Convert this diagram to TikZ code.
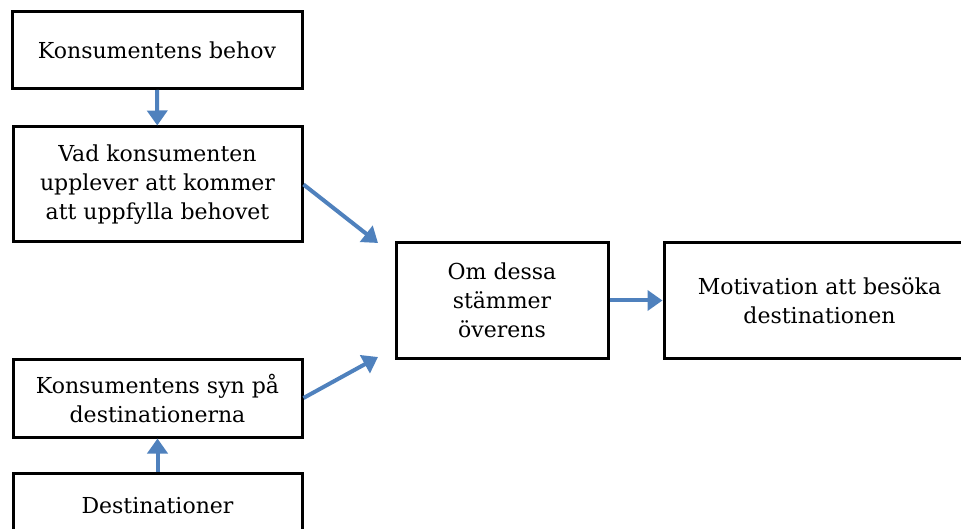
\documentclass[tikz,border=0pt]{standalone}
\usepackage{fontspec}
\setmainfont{DejaVu Serif}
\usetikzlibrary{arrows.meta, positioning}
\definecolor{pilblue}{HTML}{4F81BD}
\begin{document}
\begin{tikzpicture}[x = 1pt, y = 1pt, % one unit per pixel
                > = {Triangle[width = 20pt, length = 15pt]}, % arrow head style
                every node/.style = {font = \fontsize{22}{29}\selectfont}
            ]

            \tikzstyle{box}=[draw = black, line width = 3pt, rectangle,
            align = center, inner sep = 0pt]
            \tikzstyle{pil}=[draw = pilblue, line width = 4pt]

            \useasboundingbox (0,0) rectangle (961,528);

            \node[box, minimum width = 290pt, minimum height = 77pt] (behov)
                at (157,478) {Konsumentens behov};
            \node[box, minimum width = 289pt, minimum height = 115pt] (upplever)
                at (157.5,343.5) {Vad konsumenten\\ upplever att kommer\\ att
                uppfylla behovet};
            \node[box, minimum width = 289pt, minimum height = 78pt] (syn)
                at (157.5,130) {Konsumentens syn på\\ destinationerna};
            \node[box, minimum width = 289pt, minimum height = 66pt] (dest)
                at (157.5,22) {Destinationer};
            \node[box, minimum width = 212pt, minimum height = 116pt] (stammer)
                at (502,227.5) {Om dessa\\ stämmer\\ överens};
            \node[box, minimum width = 311pt, minimum height = 116pt] (motiv)
                at (819.5,227.5) {Motivation att besöka\\ destinationen};

            \coordinate (in1) at (378,285); \coordinate (in2) at (378,171);

            \draw[pil, ->] (behov) -- (upplever); \draw[pil, ->] (dest) -- (syn);
            \draw[pil, ->] (upplever.east) -- (in1); \draw[pil, ->] (syn.east)
            -- (in2); \draw[pil, ->] (stammer) -- (motiv);
        \end{tikzpicture}
\end{document}
